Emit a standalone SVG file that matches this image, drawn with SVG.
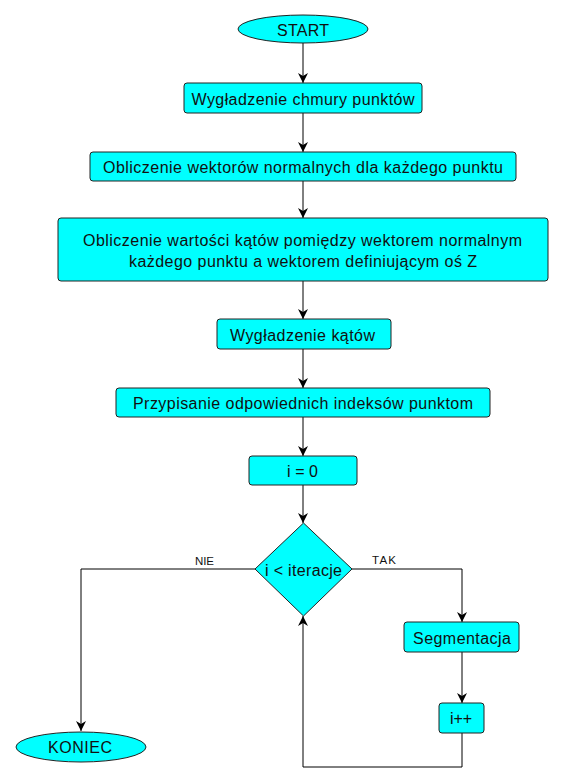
<svg xmlns="http://www.w3.org/2000/svg" width="564" height="783" viewBox="0 0 564 783">
<defs>
<marker id="arr" markerWidth="10" markerHeight="10" refX="10" refY="5" orient="auto" markerUnits="userSpaceOnUse">
<path d="M0,0 L10,5 L0,10 L3,5 Z" fill="#000"/>
</marker>
<style>
.n{fill:#00ffff;stroke:#222;stroke-width:1}
.t{font-family:"Liberation Sans",Arial,sans-serif;font-size:16px;fill:#111;text-anchor:middle}
.l{font-family:"Liberation Sans",Arial,sans-serif;font-size:11.5px;fill:#111;text-anchor:middle}
.c{fill:none;stroke:#000;stroke-width:1;marker-end:url(#arr)}
</style>
</defs>
<rect width="564" height="783" fill="#fff"/>
<g id="connectors">
<path class="c" d="M303,43 V83"/>
<path class="c" d="M303,113 V152"/>
<path class="c" d="M303,181 V218"/>
<path class="c" d="M303,281 V319"/>
<path class="c" d="M303,349 V388"/>
<path class="c" d="M303,417 V456"/>
<path class="c" d="M303,485 V523"/>
<path class="c" d="M255,569 H81 V731"/>
<path class="c" d="M352,569 H462 V622"/>
<path class="c" d="M462,652 V703"/>
<path class="c" d="M462,733 V767 H303 V616"/>
<text class="l" x="204.5" y="565" textLength="19" lengthAdjust="spacing">NIE</text>
<text class="l" x="384" y="564" textLength="24" lengthAdjust="spacing">TAK</text>
</g>
<g id="start"><ellipse class="n" cx="303" cy="29" rx="65" ry="14"/><text class="t" x="303" y="35.5" textLength="52" lengthAdjust="spacing">START</text></g>
<g id="n1"><rect class="n" x="184" y="83" width="238" height="30" rx="3"/><text class="t" x="303" y="105.3" textLength="223" lengthAdjust="spacing">Wygładzenie chmury punktów</text></g>
<g id="n2"><rect class="n" x="90" y="152" width="426" height="29" rx="3"/><text class="t" x="303" y="173" textLength="400" lengthAdjust="spacing">Obliczenie wektorów normalnych dla każdego punktu</text></g>
<g id="n3"><rect class="n" x="58" y="218" width="490" height="63" rx="3"/><text class="t" x="302.5" y="246" textLength="439" lengthAdjust="spacing">Obliczenie wartości kątów pomiędzy wektorem normalnym</text><text class="t" x="303" y="266.5" textLength="348" lengthAdjust="spacing">każdego punktu a wektorem definiującym oś Z</text></g>
<g id="n4"><rect class="n" x="217" y="319" width="174" height="30" rx="3"/><text class="t" x="302.5" y="341" textLength="145" lengthAdjust="spacing">Wygładzenie kątów</text></g>
<g id="n5"><rect class="n" x="116" y="388" width="374" height="29" rx="3"/><text class="t" x="303" y="409" textLength="340" lengthAdjust="spacing">Przypisanie odpowiednich indeksów punktom</text></g>
<g id="n6"><rect class="n" x="249" y="456" width="108" height="29" rx="3"/><text class="t" x="302.5" y="476.5" textLength="31" lengthAdjust="spacing">i = 0</text></g>
<g id="dec"><polygon class="n" points="303.5,523 352,569 303.5,616 255,569"/><text class="t" x="303.5" y="575.5" textLength="77" lengthAdjust="spacing">i &lt; iteracje</text></g>
<g id="seg"><rect class="n" x="404" y="622" width="115" height="30" rx="3"/><text class="t" x="462" y="644" textLength="98" lengthAdjust="spacing">Segmentacja</text></g>
<g id="inc"><rect class="n" x="439" y="703" width="45" height="30" rx="3"/><text class="t" x="461" y="723.5" textLength="22" lengthAdjust="spacing">i++</text></g>
<g id="end"><ellipse class="n" cx="81" cy="747" rx="65" ry="15"/><text class="t" x="80" y="752.5" textLength="64" lengthAdjust="spacing">KONIEC</text></g>
</svg>
